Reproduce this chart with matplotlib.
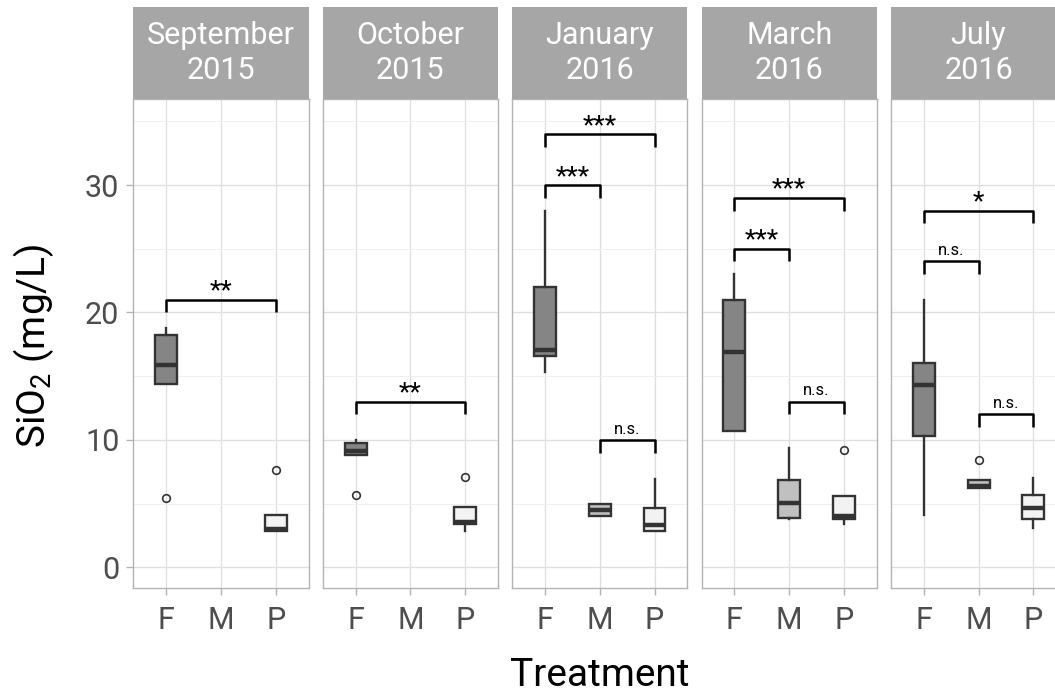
import numpy as np
import matplotlib
matplotlib.use("Agg")
import matplotlib.pyplot as plt

plt.rcParams["font.family"] = ["Roboto", "DejaVu Sans"]
plt.rcParams["mathtext.fontset"] = "custom"
plt.rcParams["mathtext.rm"] = "Roboto"

# facets and groups
panels = ["September\n2015", "October\n2015", "January\n2016", "March\n2016", "July\n2016"]
treatments = ["F", "M", "P"]
fills = ["#858585", "#c0c0c0", "#f2f2f2"]

# box statistics (rows = panels, cols = F, M, P)
nan = np.nan
whislo = [[14.4, nan, 2.85], [8.8, nan, 2.85], [15.3, 4.0, 2.85], [10.7, 3.76, 3.37], [4.07, 6.19, 3.1]]
q1 = [[14.4, nan, 2.85], [8.8, nan, 3.37], [16.55, 4.0, 2.85], [10.7, 3.9, 3.81], [10.3, 6.19, 3.76]]
med = [[15.9, nan, 3.0], [9.1, nan, 3.55], [17.07, 4.5, 3.3], [16.9, 5.07, 4.02], [14.3, 6.4, 4.62]]
q3 = [[18.25, nan, 4.1], [9.77, nan, 4.75], [22.0, 5.0, 4.67], [21.0, 6.84, 5.58], [16.0, 6.84, 5.64]]
whishi = [[18.8, nan, 4.1], [10.0, nan, 4.75], [27.95, 5.0, 6.95], [23.0, 9.37, 5.58], [21.0, 6.84, 6.97]]
fliers = [[[5.45], [], [7.65]], [[5.7], [], [7.1]], [[], [], []], [[], [], [9.24]], [[], [8.46], []]]

# significance brackets: (panel, group1, group2, height, label)
brackets = [
    (0, 1, 3, 21, "**"),
    (1, 1, 3, 13, "**"),
    (2, 1, 3, 34, "***"),
    (2, 1, 2, 30, "***"),
    (2, 2, 3, 10, "n.s."),
    (3, 1, 3, 29, "***"),
    (3, 1, 2, 25, "***"),
    (3, 2, 3, 13, "n.s."),
    (4, 1, 3, 28, "*"),
    (4, 1, 2, 24, "n.s."),
    (4, 2, 3, 12, "n.s."),
]

fig = plt.figure(figsize=(10.55, 6.96), dpi=100)

W = 1055.0
H = 696.0
left0 = 133.3
stride = 189.4
pw = 175.3
ptop = 99.0
pbot = 587.7
stop = 7.0

edge = "#333333"
axes = []
for i, name in enumerate(panels):
    x0 = (left0 + i * stride) / W
    ax = fig.add_axes([x0, (H - pbot) / H, pw / W, (pbot - ptop) / H])
    sax = fig.add_axes([x0, (H - ptop) / H, pw / W, (ptop - stop) / H])
    sax.set_facecolor("#a6a6a6")
    sax.set_xticks([])
    sax.set_yticks([])
    for s in sax.spines.values():
        s.set_visible(False)
    sax.text(0.5, 0.5, name, ha="center", va="center", color="white",
             fontsize=22, linespacing=1.3, transform=sax.transAxes)

    stats = []
    pos = []
    for j in range(3):
        if np.isnan(med[i][j]):
            continue
        stats.append(dict(med=med[i][j], q1=q1[i][j], q3=q3[i][j],
                          whislo=whislo[i][j], whishi=whishi[i][j], fliers=fliers[i][j]))
        pos.append(j + 1)
    bp = ax.bxp(stats, positions=pos, widths=0.4, patch_artist=True, showcaps=False,
                boxprops=dict(edgecolor=edge, linewidth=1.7),
                medianprops=dict(color=edge, linewidth=3.2),
                whiskerprops=dict(color=edge, linewidth=1.7),
                flierprops=dict(marker="o", markerfacecolor="none", markeredgecolor=edge,
                                markersize=5.5, markeredgewidth=1.2),
                zorder=3)
    for patch, p in zip(bp["boxes"], pos):
        patch.set_facecolor(fills[p - 1])

    ax.set_xlim(0.4, 3.6)
    ax.set_ylim(-1.6, 36.75)
    ax.set_xticks([1, 2, 3])
    ax.set_xticklabels(treatments)
    ax.set_yticks([0, 10, 20, 30])
    ax.set_yticks([5, 15, 25, 35], minor=True)
    ax.grid(True, which="major", color="#dedede", linewidth=0.9)
    ax.grid(True, which="minor", axis="y", color="#efefef", linewidth=0.7)
    ax.set_axisbelow(True)
    for s in ax.spines.values():
        s.set_color("#b3b3b3")
        s.set_linewidth(1.0)
    ax.tick_params(axis="both", which="major", colors="#b3b3b3", labelcolor="#4d4d4d",
                   labelsize=22, length=5, width=1.0)
    ax.tick_params(axis="x", pad=8)
    ax.tick_params(axis="y", pad=5)
    ax.tick_params(which="minor", length=0)
    if i > 0:
        ax.tick_params(axis="y", left=False, labelleft=False)
    axes.append(ax)

for (p, g1, g2, h, lab) in brackets:
    ax = axes[p]
    ax.plot([g1, g1, g2, g2], [h - 1, h, h, h - 1], color="black", linewidth=1.8,
            solid_capstyle="butt", zorder=4)
    if lab == "n.s.":
        ax.text((g1 + g2) / 2, h + 0.5, lab, ha="center", va="baseline", fontsize=12)
    else:
        ax.text((g1 + g2) / 2, h + 0.1, lab, ha="center", va="baseline", fontsize=19)

fig.text(34 / W, (H - 346) / H, "SiO$_\\mathregular{2}$ (mg/L)", rotation=90,
         ha="center", va="center", fontsize=28)
fig.text(600 / W, (H - 676) / H, "Treatment", ha="center", va="center", fontsize=28)

fig.savefig("out.png", dpi=100)
